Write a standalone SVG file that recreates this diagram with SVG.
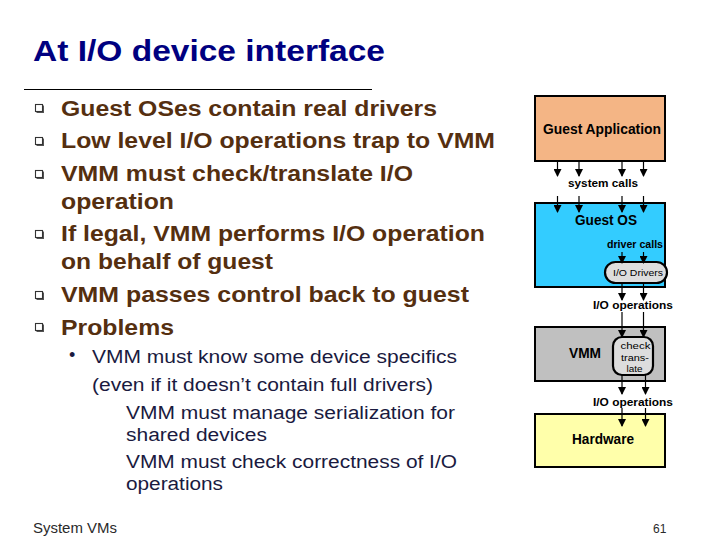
<svg xmlns="http://www.w3.org/2000/svg" width="720" height="540" viewBox="0 0 720 540">
<defs>
<style>
text{font-family:"Liberation Sans",Arial,sans-serif}
.title{font-weight:bold;font-size:29px;fill:#000080}
.b{font-weight:bold;font-size:22px;fill:#552F10}
.s{font-size:18px;fill:#1A1A40}
.lbl{font-weight:bold;font-size:14px;fill:#000;text-anchor:middle}
.sm{font-weight:bold;font-size:11px;fill:#000;text-anchor:middle}
.tiny{font-size:9.5px;fill:#000;text-anchor:middle}
.box{stroke:#000;stroke-width:2}
.ln{stroke:#000;stroke-width:1.2;fill:none;marker-end:url(#ah)}
.sq{fill:#fff;stroke:#333;stroke-width:1.1}
.sqs{fill:#555}
</style>
<marker id="ah" markerWidth="8" markerHeight="8" refX="7" refY="4" orient="auto" markerUnits="userSpaceOnUse">
<path d="M0,0 L8,4 L0,8 z" fill="#000"/>
</marker>
</defs>
<rect width="720" height="540" fill="#fff"/>
<text class="title" x="33" y="60.5" textLength="352" lengthAdjust="spacingAndGlyphs">At I/O device interface</text>
<line x1="24" y1="89.5" x2="372" y2="89.5" stroke="#000" stroke-width="1"/>

<g id="bullets">
<rect class="sqs" x="36.5" y="105.5" width="7.5" height="7.5"/>
<rect class="sq" x="35.5" y="104.5" width="7" height="7"/>
<rect class="sqs" x="36.5" y="138.5" width="7.5" height="7.5"/>
<rect class="sq" x="35.5" y="137.5" width="7" height="7"/>
<rect class="sqs" x="36.5" y="171.5" width="7.5" height="7.5"/>
<rect class="sq" x="35.5" y="170.5" width="7" height="7"/>
<rect class="sqs" x="36.5" y="231.5" width="7.5" height="7.5"/>
<rect class="sq" x="35.5" y="230.5" width="7" height="7"/>
<rect class="sqs" x="36.5" y="292.5" width="7.5" height="7.5"/>
<rect class="sq" x="35.5" y="291.5" width="7" height="7"/>
<rect class="sqs" x="36.5" y="324.5" width="7.5" height="7.5"/>
<rect class="sq" x="35.5" y="323.5" width="7" height="7"/>
</g>
<text class="b" x="61" y="116" textLength="376" lengthAdjust="spacingAndGlyphs">Guest OSes contain real drivers</text>
<text class="b" x="61" y="148" textLength="434" lengthAdjust="spacingAndGlyphs">Low level I/O operations trap to VMM</text>
<text class="b" x="61" y="181" textLength="352" lengthAdjust="spacingAndGlyphs">VMM must check/translate I/O</text>
<text class="b" x="61" y="209" textLength="113" lengthAdjust="spacingAndGlyphs">operation</text>
<text class="b" x="61" y="241" textLength="424" lengthAdjust="spacingAndGlyphs">If legal, VMM performs I/O operation</text>
<text class="b" x="61" y="269" textLength="212" lengthAdjust="spacingAndGlyphs">on behalf of guest</text>
<text class="b" x="61" y="302" textLength="408" lengthAdjust="spacingAndGlyphs">VMM passes control back to guest</text>
<text class="b" x="61" y="335" textLength="113" lengthAdjust="spacingAndGlyphs">Problems</text>

<text class="s" x="69" y="361" font-size="11">•</text>
<text class="s" x="92" y="363" textLength="365" lengthAdjust="spacingAndGlyphs">VMM must know some device specifics</text>
<text class="s" x="92" y="391" textLength="341" lengthAdjust="spacingAndGlyphs">(even if it doesn’t contain full drivers)</text>
<text class="s" x="126" y="419" textLength="329" lengthAdjust="spacingAndGlyphs">VMM must manage serialization for</text>
<text class="s" x="126" y="441" textLength="141" lengthAdjust="spacingAndGlyphs">shared devices</text>
<text class="s" x="126" y="468" textLength="331" lengthAdjust="spacingAndGlyphs">VMM must check correctness of I/O</text>
<text class="s" x="126" y="490" textLength="97" lengthAdjust="spacingAndGlyphs">operations</text>

<text x="33" y="533" textLength="84" lengthAdjust="spacingAndGlyphs" style="font-size:14px;fill:#2a2a2a">System VMs</text>
<text x="653" y="533" style="font-size:12px;fill:#2a2a2a">61</text>

<g id="guest-app">
<rect class="box" x="535" y="96" width="130" height="65" fill="#F4B585"/>
<text class="lbl" x="602" y="134" textLength="118" lengthAdjust="spacingAndGlyphs">Guest Application</text>
</g>
<g id="guest-os">
<rect class="box" x="535" y="203" width="130" height="84" fill="#33CCFF"/>
<text class="lbl" x="606" y="225" textLength="62" lengthAdjust="spacingAndGlyphs">Guest OS</text>
<text class="sm" x="635" y="248" textLength="56" lengthAdjust="spacingAndGlyphs">driver calls</text>
</g>
<g id="io-drivers">
<rect x="605" y="262" width="62" height="21" rx="10.5" fill="#DDDDDD" stroke="#000" stroke-width="2.2"/>
<text class="tiny" x="638" y="276" textLength="50" lengthAdjust="spacingAndGlyphs">I/O Drivers</text>
</g>
<g id="vmm">
<rect class="box" x="535" y="327" width="130" height="54" fill="#C0C0C0"/>
<text class="lbl" x="585" y="358" textLength="32" lengthAdjust="spacingAndGlyphs">VMM</text>
</g>
<g id="check">
<rect x="613" y="337" width="40" height="38" rx="9" fill="#DDDDDD" stroke="#000" stroke-width="2.2"/>
<text class="tiny" x="635.5" y="349" textLength="30" lengthAdjust="spacingAndGlyphs">check</text>
<text class="tiny" x="635" y="361" textLength="28" lengthAdjust="spacingAndGlyphs">trans-</text>
<text class="tiny" x="634.5" y="372" textLength="16" lengthAdjust="spacingAndGlyphs">late</text>
</g>
<g id="hardware">
<rect class="box" x="535" y="414" width="130" height="53" fill="#FFFFAA"/>
<text class="lbl" x="603" y="444" textLength="62" lengthAdjust="spacingAndGlyphs">Hardware</text>
</g>

<g id="connectors">
<line class="ln" x1="557.5" y1="161" x2="557.5" y2="176"/>
<line class="ln" x1="579" y1="161" x2="579" y2="176"/>
<line class="ln" x1="622" y1="161" x2="622" y2="176"/>
<line class="ln" x1="643.5" y1="161" x2="643.5" y2="176"/>
<text class="sm" x="603" y="187" textLength="70" lengthAdjust="spacingAndGlyphs">system calls</text>
<line class="ln" x1="557.5" y1="196" x2="557.5" y2="212"/>
<line class="ln" x1="579" y1="196" x2="579" y2="212"/>
<line class="ln" x1="622" y1="196" x2="622" y2="212"/>
<line class="ln" x1="643.5" y1="196" x2="643.5" y2="212"/>
<line class="ln" x1="622" y1="252" x2="622" y2="263"/>
<line class="ln" x1="643.5" y1="252" x2="643.5" y2="263"/>
<line class="ln" x1="622" y1="283" x2="622" y2="300"/>
<line class="ln" x1="643.5" y1="283" x2="643.5" y2="300"/>
<text class="sm" x="633" y="309" textLength="80" lengthAdjust="spacingAndGlyphs">I/O operations</text>
<line class="ln" x1="622" y1="312" x2="622" y2="337"/>
<line class="ln" x1="643.5" y1="312" x2="643.5" y2="337"/>
<line class="ln" x1="622" y1="375" x2="622" y2="394"/>
<line class="ln" x1="645.5" y1="375" x2="645.5" y2="394"/>
<text class="sm" x="633" y="405.5" textLength="80" lengthAdjust="spacingAndGlyphs">I/O operations</text>
<line class="ln" x1="622" y1="408" x2="622" y2="426"/>
<line class="ln" x1="645.5" y1="408" x2="645.5" y2="426"/>
</g>
</svg>
